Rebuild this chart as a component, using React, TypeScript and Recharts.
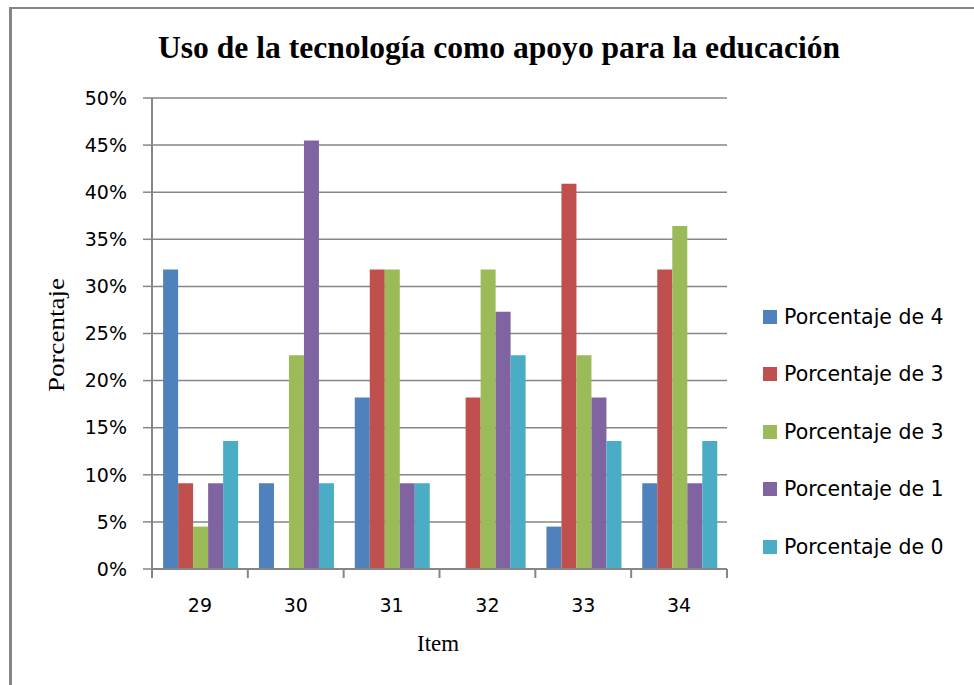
import { BarChart, Bar, XAxis, YAxis, CartesianGrid, Legend } from "recharts";

// Items on the x axis
const items = ["29", "30", "31", "32", "33", "34"];

// Percent of answers per score
const pct4 = [31.8, 9.1, 18.2, 0, 4.5, 9.1];
const pct3a = [9.1, 0, 31.8, 18.2, 40.9, 31.8];
const pct3b = [4.5, 22.7, 31.8, 31.8, 22.7, 36.4];
const pct1 = [9.1, 45.5, 9.1, 27.3, 18.2, 9.1];
const pct0 = [13.6, 9.1, 9.1, 22.7, 13.6, 13.6];

const yTicks = [0, 5, 10, 15, 20, 25, 30, 35, 40, 45, 50];

const series = [
  { key: "p4", name: "Porcentaje de 4", color: "#4F81BD", values: pct4 },
  { key: "p3a", name: "Porcentaje de 3", color: "#C0504D", values: pct3a },
  { key: "p3b", name: "Porcentaje de 3", color: "#9BBB59", values: pct3b },
  { key: "p1", name: "Porcentaje de 1", color: "#8064A2", values: pct1 },
  { key: "p0", name: "Porcentaje de 0", color: "#4BACC6", values: pct0 },
];

const data = items.map((item, i) => {
  const row: Record<string, string | number> = { item };
  series.forEach((s) => (row[s.key] = s.values[i]));
  return row;
});

const W = 974;
const H = 685;
const PLOT_LEFT = 152;
const PLOT_RIGHT = 727;
const PLOT_TOP = 98;
const PLOT_BOTTOM = 569;
const BAND = (PLOT_RIGHT - PLOT_LEFT) / items.length;
const AXIS = "#868686";
const SANS = "'DejaVu Sans', sans-serif";
const SERIF = "'Liberation Serif', 'Times New Roman', serif";

// Excel-style x tick: label centred, tick marks on the category borders
function ItemTick(props: any) {
  const { x, payload, index } = props;
  const left = x - BAND / 2;
  return (
    <g>
      <line x1={left} x2={left} y1={PLOT_BOTTOM} y2={PLOT_BOTTOM + 9} stroke={AXIS} strokeWidth={2} />
      {index === items.length - 1 && (
        <line x1={x + BAND / 2} x2={x + BAND / 2} y1={PLOT_BOTTOM} y2={PLOT_BOTTOM + 9} stroke={AXIS} strokeWidth={2} />
      )}
      <text x={x} y={612} textAnchor="middle" fontFamily={SANS} fontSize={19} fill="#000">
        {payload.value}
      </text>
    </g>
  );
}

// keep series order in the legend (Recharts sorts by name otherwise)
const order = series.map((s) => s.key);

function SideLegend(props: any) {
  const entries = [...(props.payload || [])].sort(
    (a: any, b: any) => order.indexOf(a.dataKey) - order.indexOf(b.dataKey)
  );
  return (
    <div>
      {entries.map((p: any, i: number) => (
        <div key={i} style={{ height: 57.5, display: "flex", alignItems: "center" }}>
          <span style={{ width: 14, height: 14, background: p.color, display: "inline-block", marginRight: 7 }} />
          <span style={{ fontFamily: SANS, fontSize: 20.5, color: "#000", whiteSpace: "nowrap" }}>{p.value}</span>
        </div>
      ))}
    </div>
  );
}

export default function App() {
  const xAxisHeight = 30;
  return (
    <div style={{ position: "absolute", left: 0, top: 0, width: W, height: H, background: "#fff", overflow: "hidden" }}>
      <div
        style={{
          position: "absolute",
          left: 9,
          top: 7,
          width: 1000,
          height: 700,
          borderLeft: `3px solid ${AXIS}`,
          borderTop: `2px solid ${AXIS}`,
        }}
      />
      <div style={{ position: "absolute", left: 0, top: 0 }}>
        <BarChart
          width={W}
          height={H}
          data={data}
          margin={{ top: PLOT_TOP, right: W - PLOT_RIGHT, bottom: H - PLOT_BOTTOM - xAxisHeight, left: 0 }}
          barCategoryGap="11.6%"
          barGap={0}
        >
          <CartesianGrid vertical={false} stroke={AXIS} strokeWidth={1.5} />
          <XAxis
            dataKey="item"
            height={xAxisHeight}
            tickLine={false}
            axisLine={{ stroke: AXIS, strokeWidth: 2 }}
            tick={<ItemTick />}
            interval={0}
          />
          <YAxis
            width={PLOT_LEFT}
            domain={[0, 50]}
            ticks={yTicks}
            interval={0}
            tickFormatter={(v) => `${v}%`}
            tickSize={9}
            tickMargin={16}
            axisLine={{ stroke: AXIS, strokeWidth: 2 }}
            tickLine={{ stroke: AXIS, strokeWidth: 1.5 }}
            tick={{ fontFamily: SANS, fontSize: 19, fill: "#000" }}
          />
          <Legend
            layout="vertical"
            align="center"
            verticalAlign="middle"
            itemSorter={null as any}
            content={<SideLegend />}
            wrapperStyle={{ left: 763, top: 288, width: 210 }}
          />
          {series.map((s) => (
            <Bar key={s.key} dataKey={s.key} name={s.name} fill={s.color} isAnimationActive={false} />
          ))}
        </BarChart>
      </div>
      <svg width={W} height={H} style={{ position: "absolute", left: 0, top: 0, pointerEvents: "none" }}>
        <text x={158} y={58} fontFamily={SERIF} fontWeight="bold" fontSize={32} textLength={682} lengthAdjust="spacingAndGlyphs">
          Uso de la tecnología como apoyo para la educación
        </text>
        <text
          x={64}
          y={335}
          transform="rotate(-90 64 335)"
          textAnchor="middle"
          fontFamily={SERIF}
          fontSize={23}
          textLength={114}
          lengthAdjust="spacingAndGlyphs"
        >
          Porcentaje
        </text>
        <text x={438} y={651} textAnchor="middle" fontFamily={SERIF} fontSize={24} textLength={42} lengthAdjust="spacingAndGlyphs">
          Item
        </text>
      </svg>
    </div>
  );
}
